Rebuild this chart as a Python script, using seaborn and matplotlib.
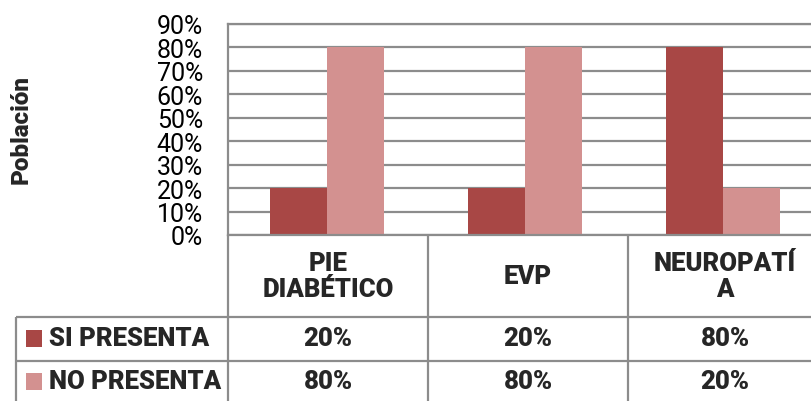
import matplotlib
matplotlib.use("Agg")
import matplotlib.pyplot as plt
import seaborn as sns
import pandas as pd
from matplotlib.ticker import PercentFormatter, MultipleLocator

categories = ["PIE\nDIABÉTICO", "EVP", "NEUROPATÍ\nA"]
series_names = ["SI PRESENTA", "NO PRESENTA"]
si_presenta = [0.20, 0.20, 0.80]
no_presenta = [0.80, 0.80, 0.20]
colors = ["#A84745", "#D39190"]
y_label = "Población"

df = pd.DataFrame({
    "cat": categories * 2,
    "serie": [series_names[0]] * 3 + [series_names[1]] * 3,
    "val": si_presenta + no_presenta,
})

sns.set_theme(style="white")
FONTS = ["Roboto", "DejaVu Sans"]
plt.rcParams["font.family"] = FONTS

W, H = 812, 402
fig = plt.figure(figsize=(W / 100, H / 100), dpi=100)
fig.patch.set_facecolor("white")

x0, x1 = 228, 822
y_top, y_bot = 25, 236
ax = fig.add_axes([x0 / W, (H - y_bot) / H, (x1 - x0) / W, (y_bot - y_top) / H])
sns.barplot(data=df, x="cat", y="val", hue="serie", palette=colors,
            width=0.576, gap=0, ax=ax, legend=False, saturation=1,
            edgecolor="none", linewidth=0)
ax.set_ylim(0, 0.9)
ax.set_xlim(-0.5, 2.5)
ax.yaxis.set_major_locator(MultipleLocator(0.1))
ax.yaxis.set_major_formatter(PercentFormatter(1.0, decimals=0))
ax.grid(axis="y", color="#8C8C8C", linewidth=1.6)
ax.set_axisbelow(True)
ax.set_xticks([])
ax.set_xlabel("")
ax.set_ylabel("")
ax.spines["right"].set_visible(False)
for s in ["left", "top", "bottom"]:
    ax.spines[s].set_color("#8C8C8C")
    ax.spines[s].set_linewidth(1.6)
ax.tick_params(axis="y", length=0, pad=18, labelsize=18, colors="black")
for lab in ax.get_yticklabels():
    lab.set_fontfamily(FONTS)

# y label
fig.text(21 / W, 1 - 130 / H, y_label, rotation=90, ha="center", va="center",
         fontsize=17.5, fontweight="heavy", family=FONTS)

# data table
t = fig.add_axes([0, 0, 1, 1], facecolor="none")
t.set_xlim(0, W)
t.set_ylim(H, 0)
t.axis("off")
lc = "#8C8C8C"
lw = 1.6
col_edges = [228, 428, 628]
col_centers = [328, 528, 725]
row_lines = [318, 362]
for xe in col_edges:
    t.plot([xe, xe], [y_bot, H + 5], color=lc, lw=lw, solid_capstyle="butt")
for yr in row_lines:
    t.plot([16, W + 5], [yr, yr], color=lc, lw=lw, solid_capstyle="butt")
t.plot([16, 16], [row_lines[0], H + 5], color=lc, lw=lw, solid_capstyle="butt")

FS = 18.5
for cx, cat in zip(col_centers, categories):
    t.text(cx, 277, cat, ha="center", va="center", fontsize=FS,
           fontweight="heavy", linespacing=1.15, family=FONTS)

row_centers = [339, 382]
for rc, name, vals, col in zip(row_centers, series_names,
                               [si_presenta, no_presenta], colors):
    t.add_patch(plt.Rectangle((26, rc - 8), 16, 17, color=col, lw=0))
    t.text(49, rc, name, ha="left", va="center", fontsize=FS,
           fontweight="heavy", family=FONTS)
    for cx, v in zip(col_centers, vals):
        t.text(cx, rc, f"{v:.0%}", ha="center", va="center", fontsize=FS,
               fontweight="heavy", family=FONTS)

fig.savefig("out.png", dpi=100)
